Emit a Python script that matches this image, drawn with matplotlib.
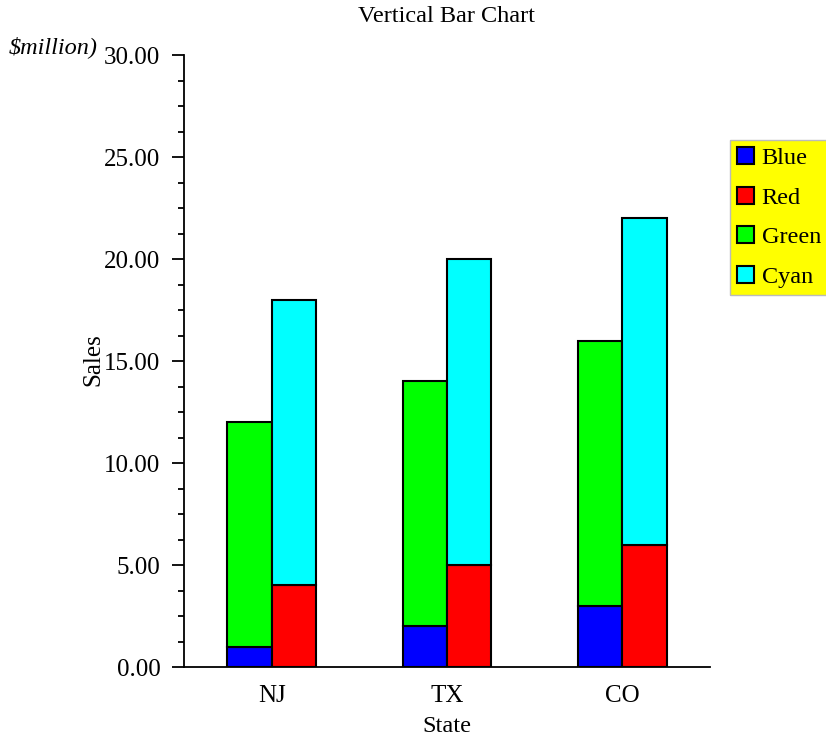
import matplotlib
matplotlib.use('Agg')
import matplotlib.pyplot as plt
import numpy as np
from matplotlib.ticker import MultipleLocator, FormatStrFormatter

plt.rcParams['font.family'] = ['Liberation Serif', 'DejaVu Serif']

# Data
states = ['NJ', 'TX', 'CO']
blue = [1, 2, 3]
green = [11, 12, 13]
red = [4, 5, 6]
cyan = [14, 15, 16]

fig = plt.figure(figsize=(8.26, 7.38), dpi=100)
ax = fig.add_axes([184/826, 71/738, 526/826, 612/738])

x = np.arange(len(states))
w = 0.252
edge = dict(edgecolor='black', linewidth=1.5)

b1 = ax.bar(x - w/2, blue, w, color='#0000ff', label='Blue', **edge)
b3 = ax.bar(x - w/2, green, w, bottom=blue, color='#00ff00', label='Green', **edge)
b2 = ax.bar(x + w/2, red, w, color='#ff0000', label='Red', **edge)
b4 = ax.bar(x + w/2, cyan, w, bottom=red, color='#00ffff', label='Cyan', **edge)

ax.set_xlim(-0.5, 2.5)
ax.set_ylim(0, 30)
ax.set_xticks(x)
ax.set_xticklabels(states)
ax.yaxis.set_major_locator(MultipleLocator(5))
ax.yaxis.set_minor_locator(MultipleLocator(1.25))
ax.yaxis.set_major_formatter(FormatStrFormatter('%.2f'))
ax.spines['top'].set_visible(False)
ax.spines['right'].set_visible(False)
ax.spines['left'].set_linewidth(1.3)
ax.spines['bottom'].set_linewidth(1.3)
ax.tick_params(axis='x', length=0, pad=13, labelsize=18)
ax.tick_params(axis='y', which='major', length=9, width=1.3, pad=8, labelsize=18)
ax.tick_params(axis='y', which='minor', length=4, width=1.3)

fig.text(447/826, 1 - 17/738, 'Vertical Bar Chart', ha='center', va='center', fontsize=17.5)
fig.text(9/826, 1 - 47/738, r'\$million)', ha='left', va='center', fontsize=17.5, style='italic')
fig.text(93/826, 1 - 360/738, 'Sales', ha='center', va='center', rotation=90, fontsize=18)
fig.text(447/826, 1 - 726/738, 'State', ha='center', va='center', fontsize=17.5)

leg = fig.legend([b1, b2, b3, b4], ['Blue', 'Red', 'Green', 'Cyan'],
                 loc='upper left', bbox_to_anchor=(730/826, 1 - 140/738),
                 fontsize=17.5, frameon=True, fancybox=False, facecolor='#ffff00',
                 edgecolor='#bbbbbb', framealpha=1, handlelength=0.7, handleheight=0.7,
                 handletextpad=0.3, labelspacing=0.72, borderpad=0.3, borderaxespad=0)

fig.savefig('out.png', dpi=100)
